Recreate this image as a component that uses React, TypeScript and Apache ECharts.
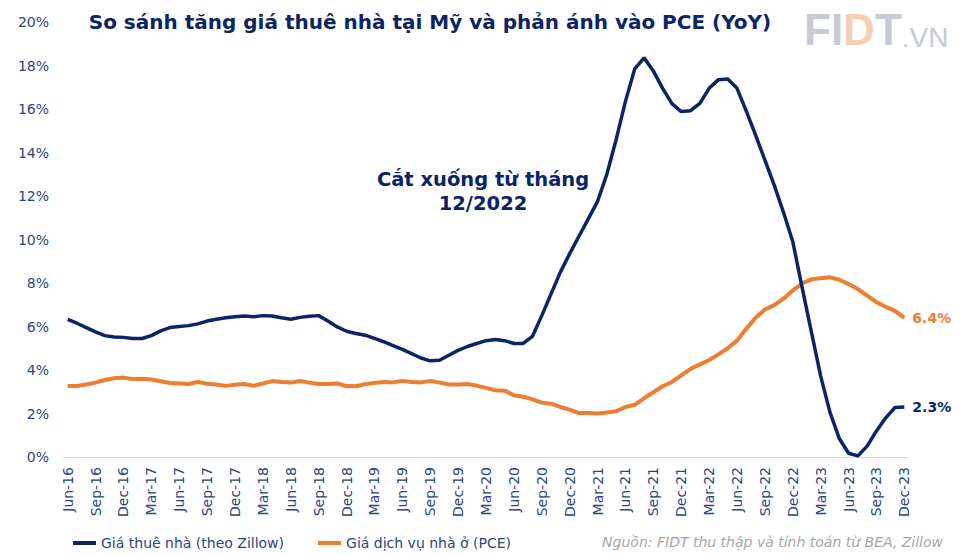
import React, { useEffect, useRef } from "react";
import * as echarts from "echarts";

const MONTHS = ["Jan", "Feb", "Mar", "Apr", "May", "Jun", "Jul", "Aug", "Sep", "Oct", "Nov", "Dec"];
const START_YEAR = 2016;
const START_MONTH = 5; // Jun
const N_MONTHS = 91;
const categories: string[] = [];
for (let k = 0; k < N_MONTHS; k++) {
  const m = (START_MONTH + k) % 12;
  const y = START_YEAR + Math.floor((START_MONTH + k) / 12);
  categories.push(`${MONTHS[m]}-${String(y).slice(2)}`);
}

const TITLE = "So sánh tăng giá thuê nhà tại Mỹ và phản ánh vào PCE (YoY)";
const SERIES_RENT = "Giá thuê nhà (theo Zillow)";
const SERIES_PCE = "Giá dịch vụ nhà ở (PCE)";
const NOTE = ["Cắt xuống từ tháng", "12/2022"];
const SOURCE = "Nguồn: FIDT thu thập và tính toán từ BEA, Zillow";

const rentZillow = [
  6.33, 6.15, 5.95, 5.75, 5.58, 5.52, 5.5, 5.45, 5.45, 5.58,
  5.8, 5.95, 6.0, 6.04, 6.12, 6.25, 6.33, 6.4, 6.45, 6.48,
  6.45, 6.5, 6.48, 6.4, 6.33, 6.42, 6.47, 6.5, 6.25, 5.98,
  5.78, 5.68, 5.6, 5.45, 5.3, 5.12, 4.95, 4.75, 4.55, 4.42,
  4.45, 4.68, 4.9, 5.08, 5.22, 5.35, 5.4, 5.35, 5.22, 5.22,
  5.55, 6.5, 7.5, 8.5, 9.35, 10.15, 10.95, 11.75, 13.0, 14.6,
  16.35, 17.85, 18.35, 17.75, 16.95, 16.25, 15.88, 15.92, 16.26, 16.95,
  17.35, 17.38, 16.95, 15.9, 14.8, 13.65, 12.5, 11.25, 9.9, 7.8,
  5.75, 3.72, 2.05, 0.85, 0.17, 0.05, 0.5, 1.2, 1.8, 2.28,
  2.3,
];

const pceHousing = [
  3.26, 3.26, 3.33, 3.42, 3.54, 3.62, 3.65, 3.59, 3.6, 3.56,
  3.48, 3.4, 3.38, 3.36, 3.45, 3.37, 3.33, 3.27, 3.32, 3.36,
  3.27, 3.38, 3.49, 3.45, 3.42, 3.49, 3.42, 3.36, 3.36, 3.38,
  3.26, 3.25, 3.35, 3.4, 3.45, 3.43, 3.5, 3.45, 3.43, 3.5,
  3.42, 3.33, 3.33, 3.36, 3.28, 3.18, 3.07, 3.05, 2.84, 2.77,
  2.65, 2.5, 2.45, 2.3, 2.18, 2.02, 2.02, 2.0, 2.05, 2.1,
  2.3, 2.4, 2.7, 2.98, 3.25, 3.45, 3.75, 4.05, 4.25, 4.46,
  4.72, 5.0, 5.35, 5.9, 6.4, 6.78, 6.98, 7.28, 7.65, 7.98,
  8.17, 8.22, 8.26, 8.15, 7.95, 7.72, 7.42, 7.12, 6.9, 6.72,
  6.4,
];

const NAVY = "#0b2466";
const ORANGE = "#ed7d31";
const AXIS_TEXT = "#2a4680";
const FONT = "'DejaVu Sans', Verdana, sans-serif";

export default function App() {
  const ref = useRef<HTMLDivElement>(null);
  useEffect(() => {
    document.body.style.margin = "0";
    if (!ref.current) return;
    const chart = echarts.init(ref.current, undefined, { renderer: "svg" });
    chart.setOption({
      animation: false,
      backgroundColor: "#ffffff",
      textStyle: { fontFamily: FONT },
      grid: { left: 63, right: 69, top: 22, bottom: 97 },
      legend: {
        left: 68,
        top: 531,
        icon: "rect",
        itemWidth: 23,
        itemHeight: 4,
        itemGap: 34,
        textStyle: { fontSize: 14, color: AXIS_TEXT, fontFamily: FONT },
        data: [SERIES_RENT, SERIES_PCE],
      },
      xAxis: {
        type: "category",
        data: categories,
        boundaryGap: true,
        axisLine: { lineStyle: { color: "#d9d9d9", width: 1 } },
        axisTick: { interval: 2, length: 5, lineStyle: { color: "#d9d9d9" } },
        axisLabel: {
          interval: 2,
          rotate: 90,
          margin: 10,
          fontSize: 14,
          color: AXIS_TEXT,
          fontFamily: FONT,
        },
        splitLine: { show: false },
      },
      yAxis: {
        type: "value",
        min: 0,
        max: 20,
        interval: 2,
        axisLine: { show: false },
        axisTick: { show: false },
        splitLine: { show: false },
        axisLabel: {
          formatter: "{value}%",
          fontSize: 14,
          margin: 14,
          color: AXIS_TEXT,
          fontFamily: FONT,
        },
      },
      series: [
        {
          name: SERIES_RENT,
          type: "line",
          data: rentZillow,
          symbol: "none",
          z: 3,
          lineStyle: { color: NAVY, width: 3.5 },
          itemStyle: { color: NAVY },
          endLabel: {
            show: true,
            distance: 8,
            formatter: (p: any) => `${Number(p.value).toFixed(1)}%`,
            color: NAVY,
            fontWeight: "bold",
            fontSize: 14,
            fontFamily: FONT,
          },
        },
        {
          name: SERIES_PCE,
          type: "line",
          data: pceHousing,
          symbol: "none",
          z: 2,
          lineStyle: { color: ORANGE, width: 4 },
          itemStyle: { color: ORANGE },
          endLabel: {
            show: true,
            distance: 8,
            formatter: (p: any) => `${Number(p.value).toFixed(1)}%`,
            color: ORANGE,
            fontWeight: "bold",
            fontSize: 14,
            fontFamily: FONT,
          },
        },
      ],
      graphic: [
        {
          type: "text",
          x: 430,
          y: 22,
          style: {
            text: TITLE,
            fill: "#0b2466",
            font: `bold 20px ${FONT}`,
            textAlign: "center",
            textVerticalAlign: "middle",
          },
        },
        {
          type: "text",
          x: 483,
          y: 191,
          style: {
            text: NOTE.join("\n"),
            fill: "#0b2466",
            font: `bold 19.5px ${FONT}`,
            textAlign: "center",
            textVerticalAlign: "middle",
            lineHeight: 24,
          },
        },
        {
          type: "text",
          x: 943,
          y: 542,
          style: {
            text: SOURCE,
            fill: "#a6a6a6",
            font: `italic 14px ${FONT}`,
            textAlign: "right",
            textVerticalAlign: "middle",
          },
        },
        {
          type: "text",
          x: 804,
          y: 29,
          style: {
            text: "{a|FI}{b|D}{a|T}{c|.VN}",
            textVerticalAlign: "middle",
            rich: {
              a: { fontFamily: "Liberation Sans", fontWeight: "bold", fontSize: 44, fill: "#c6cbd4", verticalAlign: "bottom" },
              b: { fontFamily: "Liberation Sans", fontWeight: "bold", fontSize: 44, fill: "#f5cfb3", verticalAlign: "bottom" },
              c: { fontFamily: "Liberation Sans", fontWeight: "normal", fontSize: 28, fill: "#c6cbd4", verticalAlign: "bottom" },
            },
          },
        },
      ],
    });
    return () => chart.dispose();
  }, []);
  return <div ref={ref} style={{ width: 978, height: 554 }} />;
}
